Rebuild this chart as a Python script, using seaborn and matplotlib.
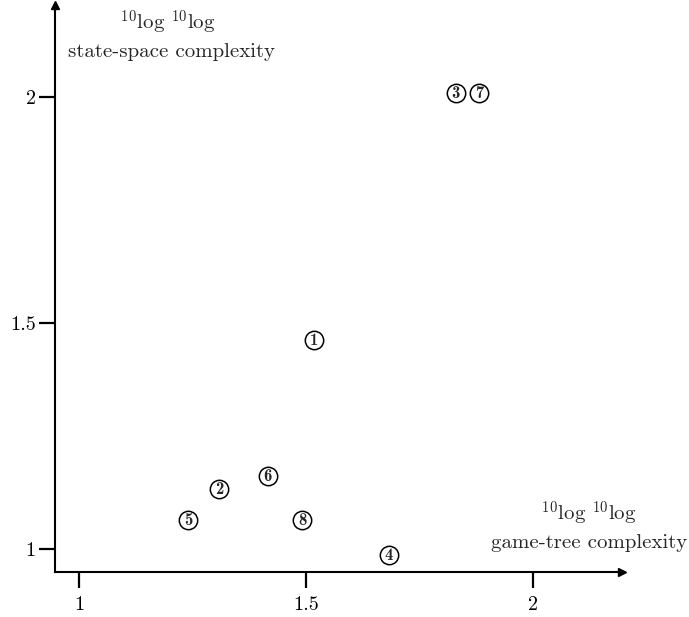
import matplotlib
matplotlib.use('Agg')
import matplotlib.pyplot as plt
import seaborn as sns
import pandas as pd

# game ids and their (game-tree, state-space) log-log complexity
game_ids = [1, 2, 3, 4, 5, 6, 7, 8]
game_tree = [1.518, 1.308, 1.830, 1.683, 1.240, 1.416, 1.881, 1.491]
state_space = [1.462, 1.133, 2.009, 0.987, 1.064, 1.161, 2.009, 1.064]
tick_values = [1, 1.5, 2]
tick_labels = ['1', '1.5', '2']

df = pd.DataFrame({'id': game_ids, 'gt': game_tree, 'ss': state_space})

sns.set_style('ticks')
plt.rcParams['font.family'] = ['cmr10']
plt.rcParams['mathtext.fontset'] = 'cm'
plt.rcParams['axes.formatter.use_mathtext'] = True

fig = plt.figure(figsize=(6.89, 6.17), dpi=100)
ax = fig.add_axes([55 / 689, 45 / 617, 567 / 689, 567 / 617])

sns.scatterplot(data=df, x='gt', y='ss', ax=ax, s=175, marker='o',
                facecolor='white', edgecolor='black', linewidth=1.1, zorder=3)
for _, r in df.iterrows():
    ax.text(r['gt'], r['ss'] - 0.001, str(int(r['id'])), ha='center', va='center',
            family='cmb10', fontsize=12, zorder=4)

ax.set_xlim(0.947, 2.196)
ax.set_ylim(0.949, 2.204)
ax.set_xticks(tick_values)
ax.set_xticklabels(tick_labels)
ax.set_yticks(tick_values)
ax.set_yticklabels(tick_labels)
ax.tick_params(axis='both', direction='out', length=11.5, width=1.6,
               labelsize=14.5, colors='black')
ax.tick_params(axis='x', pad=6)
ax.tick_params(axis='y', pad=2.5)
ax.set_xlabel('')
ax.set_ylabel('')

for side in ['top', 'right']:
    ax.spines[side].set_visible(False)
for side in ['left', 'bottom']:
    ax.spines[side].set_linewidth(1.5)
    ax.spines[side].set_color('black')

# arrow heads
ax.plot(1, 0, marker='>', color='black', markersize=6, transform=ax.transAxes, clip_on=False)
ax.plot(0, 1, marker='^', color='black', markersize=6, transform=ax.transAxes, clip_on=False)

# axis captions
ax.text(168 / 689, 1 - 23 / 617, r'$^{10}$log $^{10}$log', transform=fig.transFigure,
        ha='center', va='center', fontsize=15)
ax.text(171 / 689, 1 - 52 / 617, 'state-space complexity', transform=fig.transFigure,
        ha='center', va='center', fontsize=15)
ax.text(589 / 689, 1 - 514 / 617, r'$^{10}$log $^{10}$log', transform=fig.transFigure,
        ha='center', va='center', fontsize=15)
ax.text(589 / 689, 1 - 543 / 617, 'game-tree complexity', transform=fig.transFigure,
        ha='center', va='center', fontsize=15)

plt.savefig('out.png', dpi=100)
